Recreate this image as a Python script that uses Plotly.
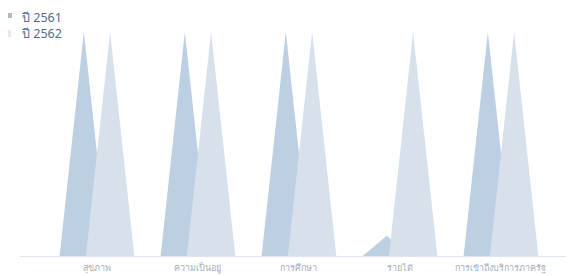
import plotly.graph_objects as go

categories = ["สุขภาพ", "ความเป็นอยู่", "การศึกษา", "รายได้", "การเข้าถึงบริการภาครัฐ"]
series_names = ["ปี 2561", "ปี 2562"]
values_2561 = [100, 100, 100, 9, 100]
values_2562 = [100, 100, 100, 100, 100]

series_values = [values_2561, values_2562]
fill_colors = ["rgb(189,207,226)", "rgb(214,225,236)"]
legend_colors = ["rgb(172,188,206)", "rgb(226,233,241)"]
offsets = [-0.13, 0.13]
half_w = 0.24

# page body has an 8px margin; figure is sized to fit the 574x276 window
W, H = 566, 268
ML, MR, MT, MB = 12, 2, 12, 20
PW, PH = W - ML - MR, H - MT - MB

fig = go.Figure()
for s, vals in enumerate(series_values):
    xs, ys = [], []
    for i, v in enumerate(vals):
        c = i + offsets[s]
        xs += [c - half_w, c, c + half_w, c - half_w, None]
        ys += [0, v, 0, 0, None]
    fig.add_trace(go.Scatter(
        x=xs, y=ys, mode="lines", fill="toself",
        fillcolor=fill_colors[s], line=dict(width=0),
        name=series_names[s], showlegend=False, hoverinfo="skip",
    ))


def pxx(p):  # figure pixel -> paper x
    return (p - ML) / PW


def pxy(p):  # figure pixel -> paper y
    return 1 - (p - MT) / PH


# legend as annotations + squares (window px minus 8)
leg_y = [17 - 8, 34 - 8]
for s, name in enumerate(series_names):
    fig.add_annotation(text=name, x=pxx(12), y=pxy(leg_y[s]), xref="paper", yref="paper",
                       xanchor="left", yanchor="middle", showarrow=False,
                       font=dict(size=12.5, color="rgb(80,106,140)", family="Noto Sans, DejaVu Sans"))

sq = [(7, 13, 12, 18), (7, 30, 11, 37)]
for s in range(2):
    x0, y0, x1, y1 = [v - 8 for v in sq[s]]
    fig.add_shape(type="rect", xref="paper", yref="paper",
                  x0=pxx(x0), x1=pxx(x1), y0=pxy(y1), y1=pxy(y0),
                  fillcolor=legend_colors[s], line=dict(width=0))

fig.update_layout(
    width=W, height=H,
    margin=dict(l=ML, r=MR, t=MT, b=MB),
    paper_bgcolor="white", plot_bgcolor="white",
    xaxis=dict(
        range=[-0.762, 4.703],
        tickmode="array", tickvals=list(range(len(categories))), ticktext=categories,
        showgrid=False, zeroline=False, showline=True, linecolor="rgb(221,230,239)", linewidth=1,
        ticks="", ticklabelstandoff=3,
        tickfont=dict(size=9, color="rgb(165,175,187)"), automargin=False,
    ),
    yaxis=dict(range=[0, 105.4], showgrid=False, zeroline=False, showticklabels=False, automargin=False),
    showlegend=False,
)

fig.write_html("out.html")
